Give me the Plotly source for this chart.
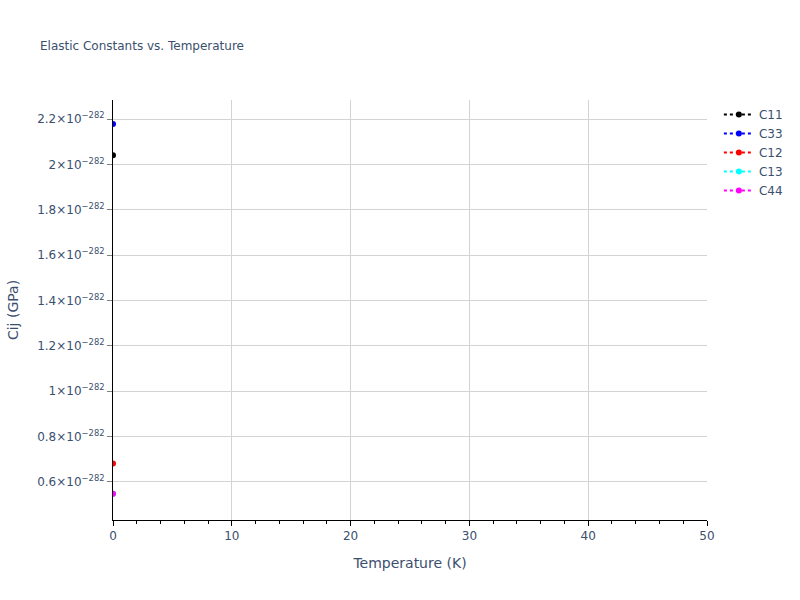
import plotly.graph_objects as go

temperature = [0]
series_names = ["C11", "C33", "C12", "C13", "C44"]
series_values = {
    "C11": [2.04e-282],
    "C33": [2.178e-282],
    "C12": [0.68e-282],
    "C13": [0.547e-282],
    "C44": [0.547e-282],
}
series_colors = {"C11": "black", "C33": "blue", "C12": "red", "C13": "cyan", "C44": "magenta"}

fig = go.Figure()
for name in series_names:
    fig.add_trace(go.Scatter(
        x=temperature, y=series_values[name], name=name,
        mode="lines+markers",
        line=dict(color=series_colors[name], dash="dot"),
        marker=dict(color=series_colors[name], size=6),
    ))

fig.update_layout(
    template="plotly_white",
    width=800, height=600,
    font=dict(family="Verdana, DejaVu Sans, sans-serif", color="#3b4f6e"),
    title=dict(text="Elastic Constants vs. Temperature", font=dict(size=12), x=0.05),
    xaxis=dict(title="Temperature (K)", range=[0, 50], dtick=10,
               showline=True, linecolor="black", ticks="outside", tickcolor="black",
               gridcolor="lightgrey", zeroline=False,
               minor=dict(ticks="outside", dtick=2, tickcolor="black", ticklen=3)),
    yaxis=dict(title="Cij (GPa)", range=[0.431e-282, 2.284e-282], dtick=0.2e-282,
               exponentformat="power", showline=True, linecolor="black",
               ticks="outside", tickcolor="gray", gridcolor="lightgrey", zeroline=False),
    plot_bgcolor="white",
)
fig.write_html("out.html", config={"displayModeBar": False},
               post_script="document.body.style.margin='0';")
